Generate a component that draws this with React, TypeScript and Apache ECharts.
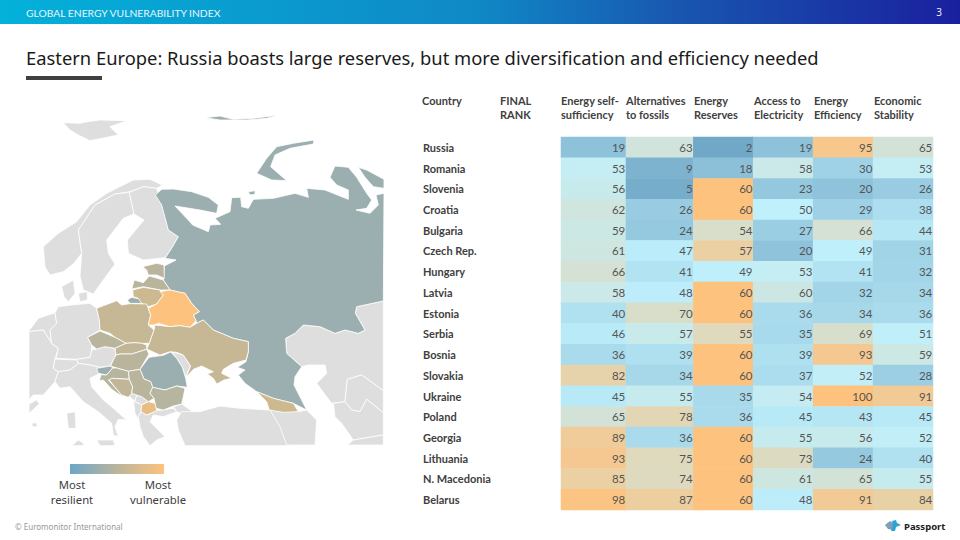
import React, { useEffect, useRef } from "react";
import * as echarts from "echarts";

const countries = ["Russia","Romania","Slovenia","Croatia","Bulgaria","Czech Rep.","Hungary","Latvia","Estonia","Serbia","Bosnia","Slovakia","Ukraine","Poland","Georgia","Lithuania","N. Macedonia","Belarus"];
const finalRank = [12,13,16,45,47,54,55,58,63,64,66,72,77,78,83,90,96,100];
const selfSufficiency = [19,53,56,62,59,61,66,58,40,46,36,82,45,65,89,93,85,98];
const alternatives = [63,9,5,26,24,47,41,48,70,57,39,34,55,78,36,75,74,87];
const reserves = [2,18,60,60,54,57,49,60,60,55,60,60,35,36,60,60,60,60];
const access = [19,58,23,50,27,20,53,60,36,35,39,37,54,45,55,73,61,48];
const efficiency = [95,30,20,29,66,49,41,32,34,69,93,52,100,43,56,24,65,91];
const stability = [65,53,26,38,44,31,32,34,36,51,59,28,91,45,52,40,55,84];
const headerCountry = "Country";
const headerRank = "FINAL\nRANK";
const columnHeaders = ["Energy self-\nsufficiency","Alternatives\nto fossils","Energy\nReserves","Access to\nElectricity","Energy\nEfficiency","Economic\nStability"];

type P = number[];
const up = (p: P[]) => p.map(([x, y]) => [x / 3, 90 + y / 3]);
const lo = (p: P[]) => p.map(([x, y]) => [x / 3, 280 + y / 3]);
const rt = (p: P[]) => p.map(([x, y]) => [270 + x / 3, 270 + y / 3]);

const regionOutlines: [string, P[][]][] = [
  ["Svalbard", [up([[190,98],[240,100],[262,95],[300,90],[382,92],[330,110],[355,135],[270,152],[235,135],[210,120]])]],
  ["Norway", [up([[130,470],[135,530],[150,555],[190,545],[222,520],[245,490],[235,420],[285,345],[345,312],[390,305],[430,290],[470,295],[487,285],[450,268],[400,270],[320,310],[270,345],[230,395],[175,430]])]],
  ["Sweden", [up([[235,420],[285,345],[345,312],[388,307],[402,372],[370,385],[320,450],[325,490],[345,522],[310,570],[280,612],[250,600],[240,560],[245,490]])]],
  ["Finland", [up([[388,307],[430,290],[470,295],[487,345],[505,420],[535,440],[515,475],[495,503],[430,510],[385,490],[382,450],[432,390],[402,372]])]],
  ["Denmark", [up([[185,590],[220,570],[225,610],[205,635],[192,620]]), up([[235,610],[262,605],[262,630],[240,635]])]],
  ["Benelux", [lo([[87,152],[100,135],[115,115],[165,98],[170,130],[150,150],[155,190],[130,150],[90,155]])]],
  ["France", [lo([[87,155],[130,150],[155,190],[175,205],[165,237],[160,265],[175,275],[165,305],[130,345],[100,345],[87,358]])]],
  ["Germany", [lo([[165,98],[175,80],[215,75],[270,70],[290,85],[298,120],[300,150],[263,172],[275,195],[275,210],[270,232],[230,238],[168,235],[175,205],[155,190],[150,150],[170,130]])]],
  ["Switzerland", [lo([[165,237],[230,240],[235,250],[210,270],[175,275],[160,265]])]],
  ["Austria", [lo([[230,238],[270,232],[275,210],[290,207],[315,200],[345,205],[348,225],[340,240],[330,258],[300,262],[270,255],[235,250]])]],
  ["Italy", [lo([[175,275],[210,270],[235,250],[270,255],[300,262],[295,282],[270,295],[275,320],[310,360],[340,385],[380,420],[355,418],[345,440],[355,470],[340,465],[335,430],[295,395],[250,365],[210,320],[180,325],[165,305]]), lo([[200,400],[225,395],[228,445],[205,445]]), lo([[290,480],[340,480],[345,497],[300,497]])]],
  ["Spain", [lo([[87,372],[110,360],[118,372],[87,400]]), lo([[95,430],[110,428],[112,440],[98,440]])]],
  ["Tunisia", [lo([[215,497],[235,480],[250,490],[250,497]])]],
  ["Moldova", [lo([[515,215],[550,225],[572,258],[557,290],[547,262],[530,235]])]],
  ["Montenegro", [lo([[385,345],[395,340],[410,345],[405,365],[400,360]])]],
  ["Kosovo", [lo([[410,345],[425,350],[445,365],[425,375],[405,365]])]],
  ["Albania", [lo([[400,360],[405,365],[425,375],[423,395],[415,410],[420,428],[405,400]])]],
  ["Greece", [lo([[415,410],[423,395],[440,405],[470,392],[520,385],[530,395],[490,410],[460,405],[450,425],[495,470],[470,480],[450,497],[430,470],[420,440]])]],
  ["Thrace", [lo([[520,380],[545,372],[585,400],[555,405],[530,395]])]],
  ["Turkey", [lo([[530,420],[545,395],[600,395],[660,378],[720,385],[808,390],[850,397],[860,430],[880,470],[880,497],[555,497],[535,450]])]],
  ["Azerbaijan", [rt([[85,425],[110,420],[140,450],[135,525],[50,525],[30,470],[0,420]])]],
  ["Kazakhstan", [rt([[340,93],[260,110],[256,130],[285,180],[265,190],[225,180],[195,190],[150,170],[100,165],[75,190],[47,205],[50,250],[95,290],[115,285],[165,285],[170,310],[140,340],[155,360],[185,400],[225,395],[232,328],[275,315],[340,362]])]],
  ["Uzbekistan", [rt([[232,328],[275,315],[340,362],[340,428],[290,388],[270,425],[245,420],[225,395]])]],
  ["Turkmenistan", [rt([[190,400],[225,395],[245,420],[270,425],[290,388],[340,428],[340,495],[250,510],[215,460],[195,440]])]],
  ["Iran", [rt([[232,525],[250,510],[340,495],[340,525]])]],
  ["Russia", [
    [...up([[466,315],[485,298],[520,297],[575,305],[625,322],[655,345],[650,370],[600,360],[525,348],[560,385],[578,405],[625,425],[630,405],[662,403],[645,385],[690,365],[695,323],[722,322],[725,350],[745,355],[760,328],[820,325],[885,310],[925,322],[920,295],[975,300],[1045,328],[1045,300],[1010,285],[990,262],[1005,228],[1045,232],[1070,262],[1100,310],[1115,330],[1100,355],[1068,360],[1110,370],[1135,345],[1128,315],[1152,310]]),
     ...rt([[340,93],[260,110],[256,130],[285,180],[265,190],[225,180],[195,190],[150,170],[100,165],[75,190],[47,205],[50,250],[95,290],[75,320],[72,345],[110,420]]),
     ...lo([[880,370],[820,355],[770,335],[735,310],[715,285],[735,270],[712,262],[738,245],[745,215],[745,185],[700,175],[640,150],[610,120],[590,130],[588,122],[580,105],[598,95],[575,70],[555,40],[530,35],[510,30]]),
     ...up([[490,570],[493,528],[528,510],[495,505],[515,475],[535,440],[505,420],[485,345]])],
    up([[1075,232],[1100,240],[1152,268],[1152,295],[1120,290],[1095,262]]),
    up([[770,250],[800,205],[830,170],[880,160],[942,150],[940,162],[870,175],[825,195],[812,230],[860,272],[815,270]]),
    up([[745,305],[765,302],[765,313],[750,315]]),
    up([[615,83],[660,78],[700,88],[760,85],[838,75],[800,85],[740,90],[660,90]]),
    lo([[382,60],[395,52],[425,58],[425,70],[390,70]]),
  ]],
  ["Estonia", [up([[428,530],[470,520],[492,525],[493,565],[470,555],[445,555],[440,540]])]],
  ["Latvia", [up([[395,597],[403,570],[430,578],[448,558],[490,570],[510,600],[480,600],[430,590]])]],
  ["Lithuania", [lo([[398,30],[430,22],[480,30],[490,45],[470,72],[445,80],[425,70],[415,55],[400,50]])]],
  ["Poland", [lo([[290,85],[350,62],[365,75],[390,71],[440,72],[452,105],[445,135],[462,150],[448,190],[425,190],[405,188],[378,190],[345,172],[330,160],[300,150],[298,120]])]],
  ["Belarus", [lo([[445,135],[452,105],[445,85],[470,72],[490,45],[480,35],[510,30],[555,40],[575,70],[598,95],[580,105],[588,122],[570,142],[540,137],[510,140],[475,130],[462,135]])]],
  ["Ukraine", [lo([[465,135],[510,140],[540,137],[570,142],[590,130],[610,120],[640,150],[700,175],[745,185],[745,215],[738,240],[700,250],[670,268],[665,280],[695,295],[672,300],[650,312],[640,295],[622,282],[640,275],[625,268],[605,258],[580,268],[558,292],[572,258],[550,225],[530,217],[510,215],[480,225],[440,207],[448,190],[462,150]])]],
  ["Czech Rep.", [lo([[263,172],[300,153],[345,172],[378,190],[345,205],[315,200],[290,207],[275,195]])]],
  ["Slovakia", [lo([[345,205],[378,190],[405,188],[425,190],[440,195],[440,208],[395,222],[360,222],[348,225]])]],
  ["Hungary", [lo([[340,240],[348,225],[360,222],[395,222],[440,208],[447,222],[420,268],[385,274],[350,264],[332,258]])]],
  ["Romania", [lo([[420,268],[447,232],[490,226],[512,216],[530,235],[547,262],[557,295],[562,322],[530,318],[495,330],[458,322],[452,305],[432,297]])]],
  ["Slovenia", [lo([[290,265],[332,258],[338,264],[320,285],[305,282],[295,280]])]],
  ["Croatia", [lo([[320,285],[338,264],[350,264],[385,274],[388,298],[340,295],[325,300],[345,322],[370,352],[335,328],[310,300],[298,302],[303,284]])]],
  ["Bosnia", [lo([[335,295],[388,298],[398,320],[395,340],[385,352],[365,345],[345,322],[328,300]])]],
  ["Serbia", [lo([[385,274],[420,268],[432,297],[452,305],[458,322],[450,340],[462,355],[445,365],[425,350],[410,345],[395,340],[398,320],[388,298]])]],
  ["Bulgaria", [lo([[458,322],[495,330],[530,318],[555,325],[550,350],[545,372],[520,378],[490,390],[468,385],[462,355],[450,340]])]],
  ["N. Macedonia", [lo([[425,375],[445,365],[465,370],[470,392],[440,405],[423,395]])]],
  ["Georgia", [lo([[770,335],[820,355],[880,370],[895,395],[850,397],[808,390],[800,365]])]],
];

const mapGeo = {
  type: "FeatureCollection",
  features: regionOutlines.map(([name, rings]) => ({
    type: "Feature",
    properties: { name },
    geometry: {
      type: "MultiPolygon",
      coordinates: rings.map((r) => [[...r, r[0]].map(([x, y]) => [x, -y])]),
    },
  })),
};

const rankColor = (rank: number) =>
  rank <= 20 ? "#9bafb0" : rank <= 50 ? "#b6b5a0" : rank <= 65 ? "#b9b49c" : rank <= 72 ? "#c1b698" : rank <= 80 ? "#c6b795" : rank <= 92 ? "#ccb98f" : rank <= 97 ? "#e8be84" : "#fdc27e";

export default function App() {
  const ref = useRef<HTMLDivElement>(null);
  useEffect(() => {
    const chart = echarts.init(ref.current!, undefined, { renderer: "svg" });
    echarts.registerMap("eeMap", mapGeo as any);
    const all = regionOutlines.flatMap(([, rs]) => rs.flat());
    const xs = all.map((p) => p[0]);
    const ys = all.map((p) => p[1]);
    const mapLeft = Math.min(...xs);
    const mapTop = Math.min(...ys);
    const mapW = Math.max(...xs) - mapLeft;
    const mapH = Math.max(...ys) - mapTop;

    const tableTop = 137;
    const tableH = 373;
    const cell = (vals: number[], col: number) => vals.map((v, i) => [col, i, v]);
    const headerX = [561, 626, 694, 754, 814, 874];
    const bodyFont = "Lato, Carlito, sans-serif";
    const label = {
      show: true,
      position: "insideRight",
      distance: 1,
      color: "#555",
      fontSize: 11.5,
      fontFamily: bodyFont,
      formatter: (p: any) => String(p.value[2]),
    };
    const heat = (xi: number, yi: number, data: number[][]) => ({
      type: "heatmap",
      xAxisIndex: xi,
      yAxisIndex: yi,
      data,
      label,
      silent: true,
      emphasis: { disabled: true },
      itemStyle: { borderWidth: 0 },
    });
    const catY = (gridIndex: number, show: boolean, data: (string | number)[], extra: any = {}) => ({
      type: "category",
      gridIndex,
      inverse: true,
      data: data.map(String),
      show,
      axisLine: { show: false },
      axisTick: { show: false },
      splitLine: { show: false },
      axisLabel: { color: "#404040", fontSize: 11, fontFamily: bodyFont, interval: 0, ...extra },
    });
    const catX = (gridIndex: number, data: string[]) => ({ type: "category", gridIndex, data, show: false });
    const headerText = (text: string, x: number) => ({
      type: "text",
      x,
      y: 93,
      style: { text, fill: "#404040", font: `bold 11px ${bodyFont}`, lineHeight: 14, textAlign: "left", textVerticalAlign: "top" },
    });
    const plainText = (text: string, x: number, y: number, font: string, fill: string, textAlign = "left") => ({
      type: "text",
      x,
      y,
      style: { text, font, fill, textAlign, textVerticalAlign: "middle" },
    });
    const uiFont = "'Noto Sans', sans-serif";

    chart.setOption({
      animation: false,
      backgroundColor: "#fff",
      grid: [
        { left: 561, top: tableTop, width: 65, height: tableH },
        { left: 626, top: tableTop, width: 67.3, height: tableH },
        { left: 693.3, top: tableTop, width: 239.7, height: tableH },
      ],
      xAxis: [catX(0, [columnHeaders[0]]), catX(1, [columnHeaders[1]]), catX(2, columnHeaders.slice(2))],
      yAxis: [
        catY(0, true, countries, { align: "left", margin: 138, fontWeight: "bold" }),
        catY(0, true, finalRank, { align: "right", margin: 19, fontWeight: "bold" }),
        catY(1, false, countries),
        catY(2, false, countries),
      ],
      visualMap: [
        { type: "continuous", show: false, min: 0, max: 100, seriesIndex: [0, 1, 3], dimension: 2, inRange: { color: ["#6ea5c5", "#c0f0fc", "#fdc27e"] } },
        { type: "continuous", show: false, min: 0, max: 60, seriesIndex: [2], dimension: 2, inRange: { color: ["#6ea5c5", "#7eb4d0", "#8fc3db", "#9fd2e6", "#b0e1f1", "#c0f0fc", "#fdc27e"] } },
      ],
      series: [
        heat(0, 0, cell(selfSufficiency, 0)),
        heat(1, 2, cell(alternatives, 0)),
        heat(2, 3, cell(reserves, 0)),
        heat(2, 3, [...cell(access, 1), ...cell(efficiency, 2), ...cell(stability, 3)]),
        {
          type: "map",
          map: "eeMap",
          left: mapLeft,
          top: mapTop,
          width: mapW,
          height: mapH,
          aspectScale: 1,
          roam: false,
          silent: true,
          showLegendSymbol: false,
          label: { show: false },
          itemStyle: { areaColor: "#dedede", borderColor: "#fff", borderWidth: 0.8 },
          emphasis: { disabled: true },
          select: { disabled: true },
          data: countries.map((name, i) => ({ name, value: finalRank[i], itemStyle: { areaColor: rankColor(finalRank[i]) } })),
        },
      ],
      graphic: [
        {
          type: "rect",
          shape: { x: 0, y: 0, width: 960, height: 24 },
          style: {
            fill: new echarts.graphic.LinearGradient(0, 0, 1, 0, [
              { offset: 0, color: "#03b1d9" },
              { offset: 0.5, color: "#1088c6" },
              { offset: 0.7, color: "#1858b0" },
              { offset: 1, color: "#1a1f9e" },
            ]),
          },
        },
        plainText("GLOBAL ENERGY VULNERABILITY INDEX", 26, 12.5, "10.3px Lato, sans-serif", "#e8f6fb"),
        plainText("3", 942, 12, "10px " + uiFont, "#e8f0fa", "right"),
        plainText("Eastern Europe: Russia boasts large reserves, but more diversification and efficiency needed", 26, 57, "18.35px " + uiFont, "#1a1a1a"),
        { type: "rect", shape: { x: 26, y: 76, width: 76, height: 4 }, style: { fill: "#404040" } },
        headerText(headerCountry, 422),
        headerText(headerRank, 500),
        ...columnHeaders.map((h, i) => headerText(h, headerX[i])),
        {
          type: "rect",
          shape: { x: 70, y: 464, width: 94, height: 10 },
          style: {
            fill: new echarts.graphic.LinearGradient(0, 0, 1, 0, [
              { offset: 0, color: "#6da6c8" },
              { offset: 0.5, color: "#bab59c" },
              { offset: 1, color: "#fdc27e" },
            ]),
          },
        },
        plainText("Most", 72, 484, "11.3px " + uiFont, "#404040", "center"),
        plainText("resilient", 72, 499, "11.3px " + uiFont, "#404040", "center"),
        plainText("Most", 158, 484, "11.3px " + uiFont, "#404040", "center"),
        plainText("vulnerable", 158, 499, "11.3px " + uiFont, "#404040", "center"),
        plainText("© Euromonitor International", 15, 526.5, "8px " + uiFont, "#999", "left"),
        { type: "polygon", shape: { points: [[885,525],[890,521],[893,523],[893,530],[888,529]] }, style: { fill: "#7f9fb8" } },
        { type: "polygon", shape: { points: [[892,521],[896,520],[897,523],[901,525],[896,527],[895,531],[891,531],[893,526]] }, style: { fill: "#2aa4d8" } },
        plainText("Passport", 904, 526, "bold 9.5px " + uiFont, "#222"),
      ],
    });
    return () => chart.dispose();
  }, []);
  return <div ref={ref} style={{ position: "fixed", left: 0, top: 0, width: 960, height: 540 }} />;
}
